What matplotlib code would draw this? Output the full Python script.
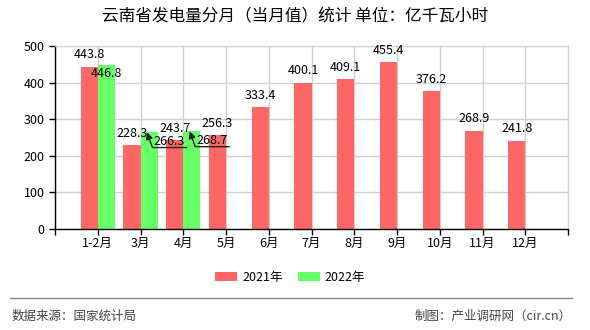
import numpy as np
import matplotlib
matplotlib.use('Agg')
import matplotlib.pyplot as plt
from matplotlib.lines import Line2D

plt.rcParams['font.family'] = ['Noto Sans CJK SC', 'DejaVu Sans']

# data (亿千瓦小时)
months = ['1-2月', '3月', '4月', '5月', '6月', '7月', '8月', '9月', '10月', '11月', '12月']
y2021 = [443.8, 228.3, 243.7, 256.3, 333.4, 400.1, 409.1, 455.4, 376.2, 268.9, 241.8]
y2022 = [446.8, 266.3, 268.7]

red = '#ff6666'
green = '#66ff66'
w = 0.4

fig = plt.figure(figsize=(5.9, 3.3), dpi=100)
ax = fig.add_axes([55 / 590, 1 - 229 / 330, 513 / 590, 183 / 330])

x = np.arange(len(months))
x2 = np.arange(len(y2022))
b1 = ax.bar(x - w / 2, y2021, width=w, color=red, label='2021年', zorder=2)
b2 = ax.bar(x2 + w / 2, y2022, width=w, color=green, label='2022年', zorder=2)

ax.set_xlim(-1, len(months))
ax.set_ylim(0, 500)
ax.set_yticks(np.arange(0, 501, 100))
ax.set_xticks(np.arange(-1, len(months) + 1))
ax.set_xticklabels([''] + months + [''])
ax.grid(True, color='#d0d0d0', lw=1, zorder=0)
ax.tick_params(axis='both', labelsize=9, length=4, width=1, color='black')
ax.tick_params(axis='x', pad=2)
for s in ['top', 'right']:
    ax.spines[s].set_color('#d0d0d0')
for s in ['left', 'bottom']:
    ax.spines[s].set_color('black')
    ax.spines[s].set_linewidth(1)

# labels on 2021 bars
for xi, v in zip(x, y2021):
    ax.annotate(f'{v}', (xi - w / 2, v), xytext=(0, 8.5), textcoords='offset points',
                ha='center', va='center', fontsize=9, zorder=5)

# 2022 labels: first one pushed down, others with leader arrows
ax.annotate(f'{y2022[0]}', (x2[0] + w / 2, y2022[0]), xytext=(0, -6), textcoords='offset points',
            ha='center', va='center', fontsize=9, zorder=5)
for xi, v in zip(x2[1:], y2022[1:]):
    ax.annotate(f'{v}', (xi + w / 2 - 0.05, v - 2), xytext=(5, -11), textcoords='offset points',
                ha='left', va='bottom', fontsize=9, zorder=5,
                arrowprops=dict(arrowstyle='-|>', color='#222222', lw=1, mutation_scale=10,
                                shrinkA=0, shrinkB=0, relpos=(1.05, 0), patchA=None,
                                connectionstyle='angle,angleA=0,angleB=-70,rad=0'))

fig.text(0.5, 1 - 17 / 330, '云南省发电量分月（当月值）统计 单位：亿千瓦小时',
         ha='center', va='center', fontsize=12)

fig.legend(handles=[b1, b2], loc='center', bbox_to_anchor=(290 / 590, 1 - 277 / 330),
           ncol=2, frameon=False, fontsize=9, handlelength=1.76, handleheight=0.72,
           handletextpad=0.4, columnspacing=1.2)

fig.add_artist(Line2D([10 / 590, 572 / 590], [1 - 298 / 330, 1 - 298 / 330],
                      color='#888888', lw=1, transform=fig.transFigure))
fig.text(12 / 590, 1 - 316 / 330, '数据来源：国家统计局', ha='left', va='center',
         fontsize=9, color='#444444')
fig.text(572 / 590, 1 - 316 / 330, '制图：产业调研网（cir.cn）', ha='right', va='center',
         fontsize=9, color='#444444')

fig.savefig('out.png', dpi=100)
